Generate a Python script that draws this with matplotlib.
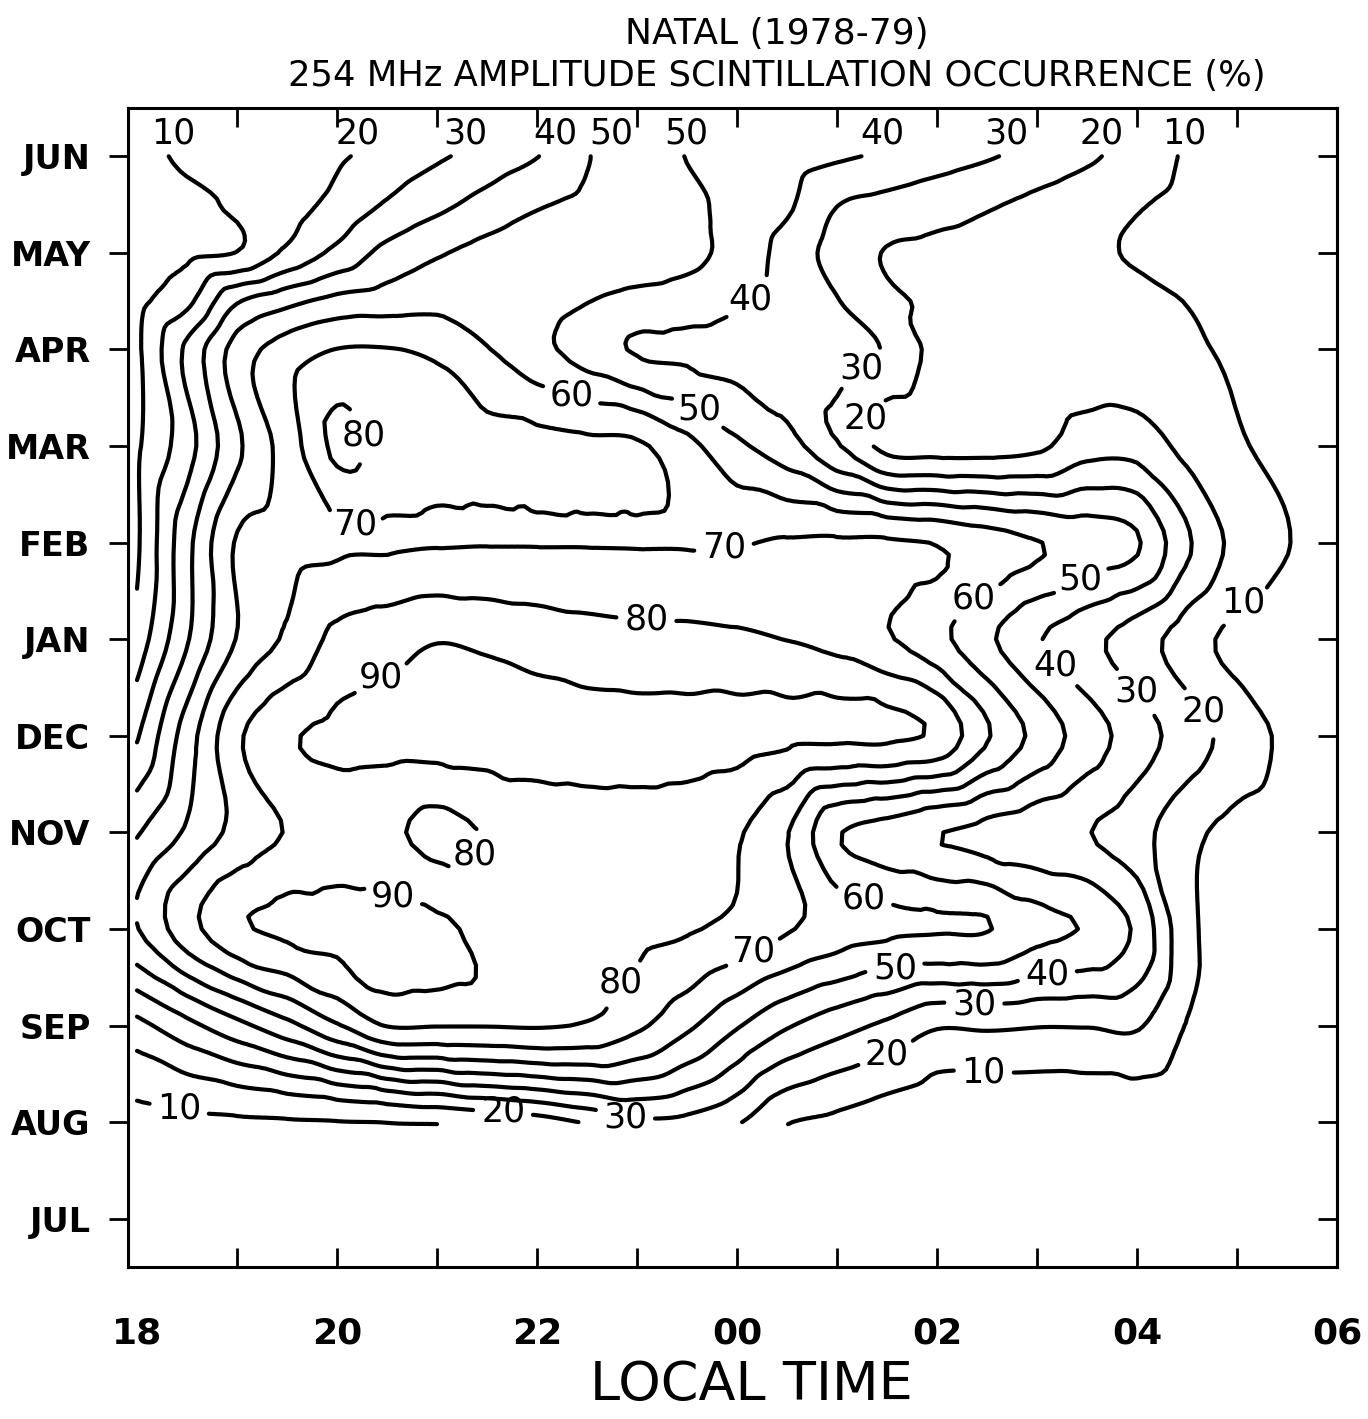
import numpy as np
import matplotlib
matplotlib.use("Agg")
import matplotlib.pyplot as plt
import matplotlib.tri as mtri

plt.rcParams['font.family'] = ['DejaVu Sans']

# local time in hours after 18 LT, every half hour (18 ... 06)
hours = np.arange(0, 12.5, 0.5)
months = ['JUL', 'AUG', 'SEP', 'OCT', 'NOV', 'DEC',
          'JAN', 'FEB', 'MAR', 'APR', 'MAY', 'JUN']
hour_labels = ['18', '20', '22', '00', '02', '04', '06']
levels = [10, 20, 30, 40, 50, 60, 70, 80, 90]
# month position of every data row (JUL = 0 ... JUN = 11, mid-month rows in between)
row_month = [0, 1, 2, 3, 4, 5, 6, 7, 8, 9, 9.5, 10, 10.5, 11]

# occurrence (%) read along each row, 18 LT -> 06 LT (nan = no data)
nan = np.nan
occ_jul = [4, 4, 4, 4, 4, 5, 5, nan, nan, nan, nan, nan, nan, nan, 4, 3, 3, 3, 3, 3, 3, 3, 3, 3, 3]
occ_aug = [7, 8, 8.5, 9, 9.6, 10.2, 10.8, 11.5, 15, 21, 28, 27, 21, 10.5, 8, 5, 3, 3, 3, 3, 3, 3, 3, 3, 3]
occ_sep = [27, 37, 47, 57, 69, 80.5, 80.5, 80.5, 81, 79, 72, 62, 51, 41, 34, 28, 21, 21.5, 20.5, 20.5, 21, 9.5, 5, 4, 4]
occ_oct = [59.5, 76, 88, 92, 93, 93, 91.5, 88, 84, 83, 82.5, 81, 77, 71, 65, 62, 61, 60.5, 53, 49, 38, 13, 5, 4, 4]
occ_nov = [49, 61.5, 73, 80.5, 84, 82, 77, 80.5, 85, 86, 86, 85, 81, 70.5, 51, 46, 40.5, 37, 34, 30.5, 24, 13, 7, 5, 4]
occ_dec = [29, 55, 78, 88.5, 92, 93, 94, 94, 93, 93, 93, 93, 93, 92, 92, 92, 88, 71, 57, 45, 35, 25, 16, 8, 5]
occ_jan = [14, 39, 60.5, 71.5, 82.5, 86, 89.5, 88, 86, 84, 83, 82.5, 81.5, 79.8, 77, 71, 63, 52, 41, 33, 25, 15, 7, 5, 4]
occ_feb = [8.5, 37, 61, 66, 68.5, 69, 69.4, 69.6, 69.6, 69.6, 69.5, 69.3, 69.5, 71, 71.5, 71.5, 69.5, 65, 60.5, 55.5, 51, 31.5, 17, 10.3, 7]
occ_mar = [8.5, 26, 48, 64.5, 82, 77, 74, 73, 73, 72, 71.5, 63, 52, 44, 31, 17, 16, 16, 18, 26, 26, 17, 11, 8, 6]
occ_apr = [8, 32, 54, 64.5, 70.2, 70.4, 68, 60.5, 53, 45.5, 39, 38, 37, 37, 34.5, 29, 17, 15, 14, 13.5, 12.5, 11, 9, 7, 6]
occ_mid_apr = [7, 17.5, 39, 47, 53, 55, 57, 56, 54, 50.3, 47, 45, 41, 36.5, 30.5, 22, 19, 18, 16.5, 14.5, 12.5, 9.8, 8, 7, 6]
occ_may = [5, 8, 10.3, 22, 32.5, 43, 49, 53, 56, 57, 56, 53, 46, 36.5, 26, 19.5, 18, 17, 15, 12, 9, 7, 6, 5, 4]
occ_mid_may = [5, 7.5, 11.5, 16, 23, 31, 37.5, 43.5, 49, 52, 53, 52, 47, 41.5, 30.3, 27, 24, 21, 17.7, 14.2, 10.7, 8, 6, 5, 4]
occ_jun = [6, 12, 11, 13, 18.5, 23.5, 28.5, 34, 39.7, 49.5, 55, 49.7, 47, 44.5, 41.5, 38.4, 34.7, 31, 26.5, 21.7, 15.5, 9, 6, 5, 4]

Z = np.array([occ_jul, occ_aug, occ_sep, occ_oct, occ_nov, occ_dec, occ_jan, occ_feb,
              occ_mar, occ_apr, occ_mid_apr, occ_may, occ_mid_may, occ_jun], dtype=float)

# where the contour labels sit (hour, month index)
label_pos = [(6.12, 9.53), (4.38, 8.6), (5.67, 8.44), (7.27, 8.75), (7.42, 8.26),
             (2.5, 8.15), (2.18, 7.2), (5.87, 6.96), (5.1, 6.29), (2.43, 5.61),
             (8.37, 6.42), (9.39, 6.75), (10.99, 6.47), (9.25, 5.8), (10.02, 5.48),
             (10.75, 5.3), (3.4, 3.75), (2.53, 3.22), (7.28, 3.36), (6.17, 2.74),
             (4.78, 2.5), (7.57, 2.63), (9.1, 2.6), (8.37, 2.27), (7.45, 1.82),
             (8.47, 1.57), (0.43, 1.18), (3.65, 0.97), (4.88, 1.05)]
# labels written above the line ends at the top
top_labels = [(0.36, '10'), (2.21, '20'), (3.28, '30'), (4.18, '40'), (4.74, '50'),
              (5.49, '50'), (7.45, '40'), (8.69, '30'), (9.65, '20'), (10.47, '10')]

ny, nx = Z.shape
X, Y = np.meshgrid(hours, row_month)
cells = []
for j in range(ny - 1):
    for i in range(nx - 1):
        a = j * nx + i
        cells.append([a, a + 1, a + nx])
        cells.append([a + 1, a + nx + 1, a + nx])
tri = mtri.Triangulation(X.ravel(), Y.ravel(), cells)
z = Z.ravel()
tri.set_mask(np.isnan(z)[tri.triangles].any(axis=1))
z = np.nan_to_num(z)

interp = mtri.CubicTriInterpolator(tri, z, kind='geom')
tri_f, z_f = mtri.UniformTriRefiner(tri).refine_field(z, triinterpolator=interp, subdiv=3)

fig = plt.figure(figsize=(13.68, 14.19), dpi=100)
ax = fig.add_axes([128 / 1368, 1 - 1267 / 1419, 1209 / 1368, 1159 / 1419])
ax.set_xlim(-0.09, 12)
ax.set_ylim(-0.5, 11.5)

cs = ax.tricontour(tri_f, z_f, levels=levels, colors='black', linewidths=3.0)
cs.set_capstyle('round')
ax.clabel(cs, fmt='%d', fontsize=25, inline=True, inline_spacing=8, manual=label_pos)
for t in cs.labelTexts:
    t.set_rotation(0)

for h, t in top_labels:
    ax.text(h, 11.24, t, ha='center', va='center', fontsize=25)

# axes, ticks
ax.xaxis.remove_overlapping_locs = False
ax.set_xticks(np.arange(1, 12))
ax.set_xticklabels([])
ax.set_xticks(np.arange(0, 13, 2), minor=True)
ax.set_xticklabels(hour_labels, minor=True, fontsize=26, fontweight='bold')
ax.tick_params(axis='x', which='major', direction='in', length=14, width=2,
               top=True, bottom=True)
ax.tick_params(axis='x', which='minor', length=0, pad=36, top=False)
ax.set_yticks(np.arange(12))
ax.set_yticklabels(months, fontsize=24, fontweight='bold')
ax.tick_params(axis='y', direction='out', length=14, width=2, pad=13)
sec = ax.secondary_yaxis('right')
sec.set_yticks(np.arange(12))
sec.tick_params(direction='in', length=14, width=2, labelright=False)
for s in ax.spines.values():
    s.set_linewidth(2.2)
sec.spines['right'].set_linewidth(2.2)

fig.text(777 / 1368, 1 - 34 / 1419, 'NATAL (1978-79)', ha='center', va='center', fontsize=26)
fig.text(777 / 1368, 1 - 76 / 1419, '254 MHz AMPLITUDE SCINTILLATION OCCURRENCE (%)',
         ha='center', va='center', fontsize=25.5)
fig.text(751 / 1368, 1 - 1385 / 1419, 'LOCAL TIME', ha='center', va='center', fontsize=39)

fig.savefig('out.png', dpi=100)
